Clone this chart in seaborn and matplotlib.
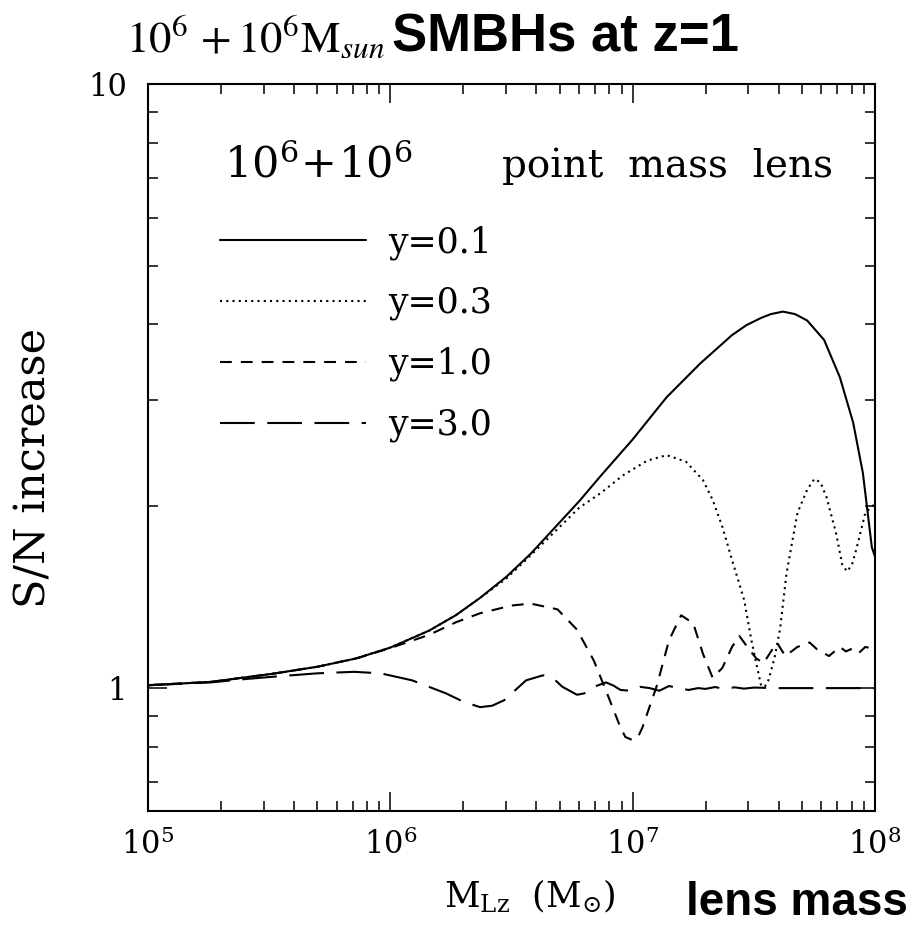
import numpy as np
import pandas as pd
import matplotlib
matplotlib.use("Agg")
import matplotlib.pyplot as plt
import seaborn as sns
from matplotlib.ticker import LogLocator, NullFormatter

# ---------------- data ----------------
series_labels = ["y=0.1", "y=0.3", "y=1.0", "y=3.0"]

logm_01 = [5.0, 5.26, 5.52, 5.7, 5.86, 6.0, 6.16, 6.27, 6.37, 6.48, 6.58, 6.78, 6.87, 7.0, 7.14,
           7.28, 7.41, 7.47, 7.53, 7.57, 7.62, 7.67, 7.72, 7.79, 7.855, 7.91, 7.95, 7.987, 8.0]
sn_01 = [1.011, 1.024, 1.057, 1.085, 1.12, 1.167, 1.245, 1.32, 1.41, 1.53, 1.67, 2.04, 2.25, 2.58, 3.03,
         3.45, 3.84, 3.99, 4.10, 4.16, 4.20, 4.16, 4.06, 3.77, 3.27, 2.75, 2.27, 1.71, 1.65]

logm_03 = [5.0, 5.26, 5.52, 5.7, 5.86, 6.0, 6.16, 6.27, 6.37, 6.48, 6.58, 6.78, 6.866, 6.96, 7.06, 7.14,
           7.22, 7.29, 7.33, 7.37, 7.41, 7.46, 7.49, 7.512, 7.53, 7.545, 7.56, 7.585, 7.608,
           7.635, 7.68, 7.72, 7.75, 7.775, 7.80, 7.84, 7.865, 7.885, 7.905, 7.925, 7.96, 8.0]
sn_03 = [1.011, 1.024, 1.057, 1.085, 1.12, 1.167, 1.245, 1.32, 1.41, 1.52, 1.66, 1.99, 2.10, 2.25, 2.38, 2.43,
         2.37, 2.21, 2.05, 1.85, 1.63, 1.40, 1.20, 1.09, 1.01, 1.005, 1.03, 1.12, 1.25,
         1.55, 1.95, 2.13, 2.22, 2.19, 2.07, 1.80, 1.60, 1.56, 1.60, 1.71, 1.95, 2.02]

logm_10 = [5.0, 5.26, 5.52, 5.7, 5.86, 6.0, 6.16, 6.27, 6.37, 6.50, 6.58, 6.69, 6.77, 6.84, 6.89,
           6.95, 6.97, 7.0, 7.025, 7.04, 7.10, 7.15, 7.2, 7.25, 7.29, 7.33, 7.37, 7.41, 7.44,
           7.48, 7.51, 7.54, 7.595, 7.63, 7.68, 7.73, 7.76, 7.81, 7.855, 7.88, 7.90, 7.93, 7.96, 8.0]
sn_10 = [1.011, 1.024, 1.057, 1.085, 1.12, 1.165, 1.225, 1.285, 1.33, 1.37, 1.38, 1.35, 1.25, 1.11, 0.99,
         0.86, 0.83, 0.82, 0.835, 0.86, 1.01, 1.20, 1.32, 1.28, 1.14, 1.04, 1.08, 1.17, 1.22,
         1.16, 1.12, 1.10, 1.19, 1.13, 1.17, 1.19, 1.16, 1.13, 1.17, 1.15, 1.16, 1.14, 1.17, 1.16]

logm_30 = [5.0, 5.26, 5.4, 5.55, 5.7, 5.85, 5.96, 6.09, 6.23, 6.30, 6.37, 6.42, 6.47, 6.56,
           6.63, 6.67, 6.71, 6.77, 6.80, 6.84, 6.89, 6.92, 6.95, 6.99, 7.03, 7.07, 7.11, 7.15,
           7.19, 7.23, 7.27, 7.30, 7.34, 7.38, 7.42, 7.46, 7.5, 7.6, 8.0]
sn_30 = [1.011, 1.022, 1.035, 1.047, 1.058, 1.064, 1.058, 1.03, 0.98, 0.95, 0.93, 0.935, 0.955, 1.03,
         1.05, 1.04, 1.005, 0.975, 0.98, 1.005, 1.022, 1.01, 0.993, 0.99, 1.005, 1.0, 0.99, 1.008,
         1.0, 0.993, 1.0, 0.997, 1.004, 0.997, 1.003, 0.998, 1.002, 1.0, 1.0]

x_ticks = [1e5, 1e6, 1e7, 1e8]
x_tick_labels = [r"$10^{5}$", r"$10^{6}$", r"$10^{7}$", r"$10^{8}$"]
y_ticks = [1, 10]
y_tick_labels = ["1", "10"]

# ---------------- style ----------------
sns.set_style("ticks")
plt.rcParams["font.family"] = ["DejaVu Serif"]
plt.rcParams["mathtext.fontset"] = "dejavuserif"
plt.rcParams["lines.scale_dashes"] = False
plt.rcParams["text.color"] = "black"
plt.rcParams["axes.edgecolor"] = "black"
plt.rcParams["xtick.color"] = "black"
plt.rcParams["ytick.color"] = "black"
plt.rcParams["axes.labelcolor"] = "black"

fig = plt.figure(figsize=(9.15, 9.35), dpi=100)
ax = fig.add_axes([148 / 915, 1 - 811 / 935, (875 - 148) / 915, (811 - 84) / 935])

frames = []
for lab, lm, sv in zip(series_labels, [logm_01, logm_03, logm_10, logm_30],
                       [sn_01, sn_03, sn_10, sn_30]):
    frames.append(pd.DataFrame({"mass": 10 ** np.array(lm), "sn": sv, "case": lab}))
df = pd.concat(frames, ignore_index=True)

line_styles = {
    "y=0.1": "-",
    "y=0.3": (0, (1.5, 3.0)),
    "y=1.0": (0, (8.5, 6.5)),
    "y=3.0": (0, (25, 9)),
}

for lab in series_labels:
    sub = df[df["case"] == lab]
    sns.lineplot(data=sub, x="mass", y="sn", ax=ax, color="black", lw=1.5,
                 linestyle=line_styles[lab], label=lab, estimator=None, sort=True)

ax.set_xscale("log")
ax.set_yscale("log")
ax.set_xlim(1e5, 1e8)
ax.set_ylim(0.626, 10)

ax.set_xticks(x_ticks, labels=x_tick_labels)
ax.set_yticks(y_ticks, labels=y_tick_labels)
ax.xaxis.set_minor_locator(LogLocator(base=10, subs=np.arange(2, 10), numticks=30))
ax.yaxis.set_minor_locator(LogLocator(base=10, subs=np.arange(2, 10), numticks=30))
ax.xaxis.set_minor_formatter(NullFormatter())
ax.yaxis.set_minor_formatter(NullFormatter())

ax.tick_params(which="both", direction="in", top=True, right=True, width=1.1,
               labelsize=22)
ax.tick_params(which="major", length=14)
ax.tick_params(which="minor", length=7.5)
ax.tick_params(axis="x", which="major", pad=13)
ax.tick_params(axis="y", which="major", pad=15)
for sp in ax.spines.values():
    sp.set_linewidth(1.5)
    sp.set_color("black")

ax.set_xlabel("")
ax.set_ylabel("")

leg = ax.legend(loc="upper left", bbox_to_anchor=(220 / 915, 1 - 225 / 935),
                bbox_transform=fig.transFigure, frameon=False, fontsize=25,
                handlelength=4.2, handletextpad=0.65, labelspacing=0.76,
                borderpad=0, borderaxespad=0)

# inner annotations
fig.text(224 / 915, 1 - 177 / 935, r"$10^6\!+\!10^6$", fontsize=31,
         ha="left", va="baseline")
fig.text(668 / 915, 1 - 177 / 935, "point  mass  lens", fontsize=28,
         ha="center", va="baseline")

# axis labels
fig.text(34 / 915, 1 - 468 / 935, "S/N increase", rotation=90, fontsize=31,
         ha="center", va="center")
fig.text(530 / 915, 1 - 907 / 935, r"$\mathrm{M}_{\mathrm{Lz}}\ \ \left(\mathrm{M}_{\odot}\right)$",
         fontsize=25, ha="center", va="baseline")
fig.text(686 / 915, 1 - 915 / 935, "lens mass", fontsize=33, fontweight="bold",
         family=["Liberation Sans", "DejaVu Sans"], ha="left", va="baseline")

# title
fig.text(126 / 915, 1 - 52 / 935, r"$10^6\,+10^6\mathrm{M}_{sun}$", fontsize=32,
         math_fontfamily="stix", ha="left", va="baseline")
fig.text(392 / 915, 1 - 52 / 935, "SMBHs at z=1", fontsize=38, fontweight="bold",
         family=["Liberation Sans", "DejaVu Sans"], ha="left", va="baseline")

fig.savefig("out.png", dpi=100)
